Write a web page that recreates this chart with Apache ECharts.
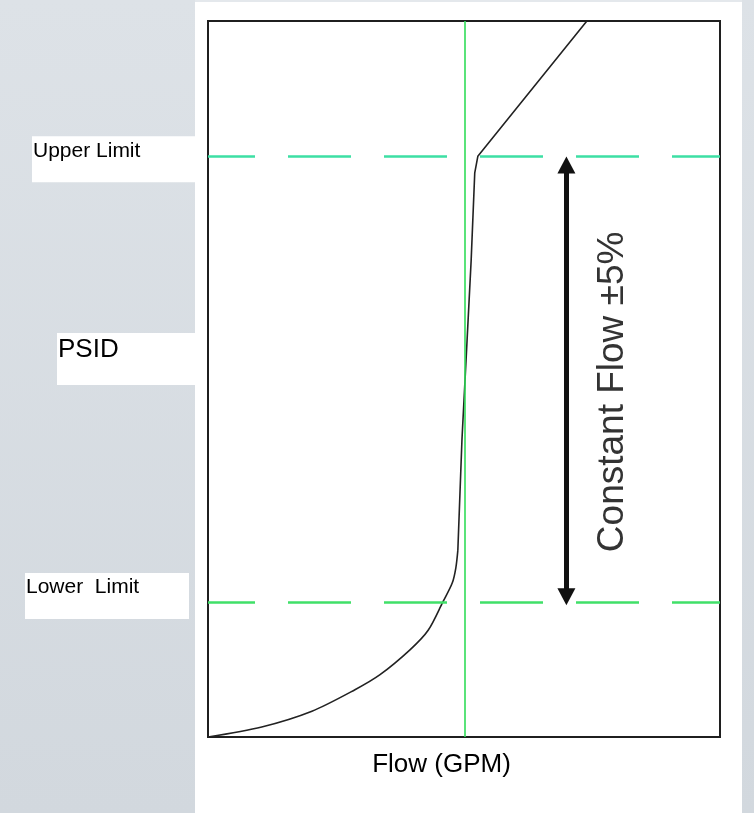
<!DOCTYPE html>
<html>
<head>
<meta charset="utf-8">
<script src="https://cdn.jsdelivr.net/npm/echarts@6/dist/echarts.min.js"></script>
<style>
html,body{margin:0;padding:0;background:#ffffff;}
#chart{width:754px;height:813px;}
</style>
</head>
<body>
<div id="chart"></div>
<script>
// ---- data (axis units 0..100, no numeric tick labels in the reference) ----
const flowValues = [0, 10.5, 20.3, 28.7, 33.6, 39.5, 43.0, 45.9, 47.7, 48.4, 48.8, 49.6, 50.6, 51.4, 52.1, 52.7, 74.0];
const psidValues = [0, 1.4, 3.6, 6.6, 8.7, 12.2, 14.9, 18.9, 21.5, 23.6, 26.1, 41.5, 55.4, 66.6, 78.8, 81.1, 100];
const kneeIndex = 10; // end of the curved (cracking) part
const upperLimit = 81.1;
const lowerLimit = 18.8;
const nominalFlow = 50.2;
const arrowFlow = 70;
const arrowRange = [19.6, 79.9];
const bandLabelAt = [79.1, 48.2];
const xAxisName = 'Flow (GPM)';
const yAxisName = 'PSID';
const upperLabel = 'Upper Limit';
const lowerLabel = 'Lower  Limit';
const bandLabel = 'Constant Flow ±5%';

const FONT = '"Liberation Sans", Arial, sans-serif';
const chart = echarts.init(document.getElementById('chart'), null, {renderer: 'canvas'});

const curve = flowValues.map((x, i) => [x, psidValues[i]]);
const curvedPart = curve.slice(0, kneeIndex + 1);
const straightPart = curve.slice(kneeIndex);
const gray = new echarts.graphic.LinearGradient(0, 0, 0, 1, [
  {offset: 0, color: '#dde2e7'}, {offset: 1, color: '#d2d8de'}
]);

const option = {
  animation: false,
  backgroundColor: '#ffffff',
  grid: {left: 208, right: 34, top: 21, bottom: 76, show: true, borderColor: '#1f1f1f', borderWidth: 2, backgroundColor: 'transparent'},
  xAxis: {type: 'value', min: 0, max: 100, axisLine: {show: false}, axisTick: {show: false}, axisLabel: {show: false}, splitLine: {show: false}},
  yAxis: {type: 'value', min: 0, max: 100, axisLine: {show: false}, axisTick: {show: false}, axisLabel: {show: false}, splitLine: {show: false}},
  series: [
    {
      type: 'line', data: [], silent: true, z: 1,
      markLine: {
        silent: true, symbol: 'none', label: {show: false}, animation: false,
        data: [
          {yAxis: upperLimit, lineStyle: {color: '#3ddfa4', width: 2.6, type: [63, 33], dashOffset: 16}},
          {yAxis: lowerLimit, lineStyle: {color: '#40e068', width: 2.6, type: [63, 33], dashOffset: 16}},
          {xAxis: nominalFlow, lineStyle: {color: '#30dc58', width: 1.6, type: 'solid'}}
        ]
      }
    },
    {
      type: 'line', data: curvedPart, showSymbol: false, silent: true, z: 3,
      smooth: 0.3,
      lineStyle: {color: '#222222', width: 1.6}
    },
    {
      type: 'line', data: straightPart, showSymbol: false, silent: true, z: 3,
      lineStyle: {color: '#222222', width: 1.6}
    },
    {
      type: 'line', data: [], silent: true, z: 4,
      markLine: {
        silent: true, animation: false, label: {show: false},
        symbol: ['triangle', 'triangle'], symbolSize: [18, 17],
        lineStyle: {color: '#111111', width: 5, type: 'solid'},
        itemStyle: {color: '#111111'},
        data: [[{coord: [arrowFlow, arrowRange[0]]}, {coord: [arrowFlow, arrowRange[1]]}]]
      }
    }
  ]
};
chart.setOption(option);

const px = (x, y) => chart.convertToPixel({gridIndex: 0}, [x, y]);
const pUp = px(0, upperLimit);
const pLo = px(0, lowerLimit);
const pBand = px(bandLabelAt[0], bandLabelAt[1]);
const gridLeft = 208;

chart.setOption({
  graphic: [
    {type: 'rect', id: 'gl', z: 0, shape: {x: 0, y: 0, width: 195, height: 813}, style: {fill: gray}, silent: true},
    {type: 'rect', id: 'gr', z: 0, shape: {x: 742, y: 0, width: 12, height: 813}, style: {fill: gray}, silent: true},
    {type: 'rect', id: 'gt', z: 0, shape: {x: 195, y: 0, width: 547, height: 2}, style: {fill: '#e4e8ec'}, silent: true},
    {type: 'rect', id: 'ub', z: 5, shape: {x: 32, y: pUp[1] - 20, width: gridLeft - 13 - 32, height: 46}, style: {fill: '#ffffff'}, silent: true},
    {type: 'text', id: 'ut', z: 6, x: 33, y: pUp[1] - 5, style: {text: upperLabel, font: '21px ' + FONT, fill: '#000000', align: 'left', verticalAlign: 'middle'}, silent: true},
    {type: 'rect', id: 'lb', z: 5, shape: {x: 25, y: pLo[1] - 29.5, width: 189 - 25, height: 46}, style: {fill: '#ffffff'}, silent: true},
    {type: 'text', id: 'lt', z: 6, x: 26, y: pLo[1] - 15, style: {text: lowerLabel, font: '21px ' + FONT, fill: '#000000', align: 'left', verticalAlign: 'middle'}, silent: true},
    {type: 'rect', id: 'pb', z: 5, shape: {x: 57, y: 333, width: gridLeft - 13 - 57, height: 52}, style: {fill: '#ffffff'}, silent: true},
    {type: 'text', id: 'pt', z: 6, x: 58, y: 350, style: {text: yAxisName, font: '26px ' + FONT, fill: '#000000', align: 'left', verticalAlign: 'middle'}, silent: true},
    {type: 'text', id: 'ft', z: 6, x: 441.5, y: 765, style: {text: xAxisName, font: '26px ' + FONT, fill: '#000000', align: 'center', verticalAlign: 'middle'}, silent: true},
    {type: 'text', id: 'ct', z: 6, x: pBand[0], y: pBand[1], rotation: Math.PI / 2, style: {text: bandLabel, font: '37px ' + FONT, fill: '#333333', align: 'center', verticalAlign: 'middle'}, silent: true}
  ]
});
</script>
</body>
</html>
